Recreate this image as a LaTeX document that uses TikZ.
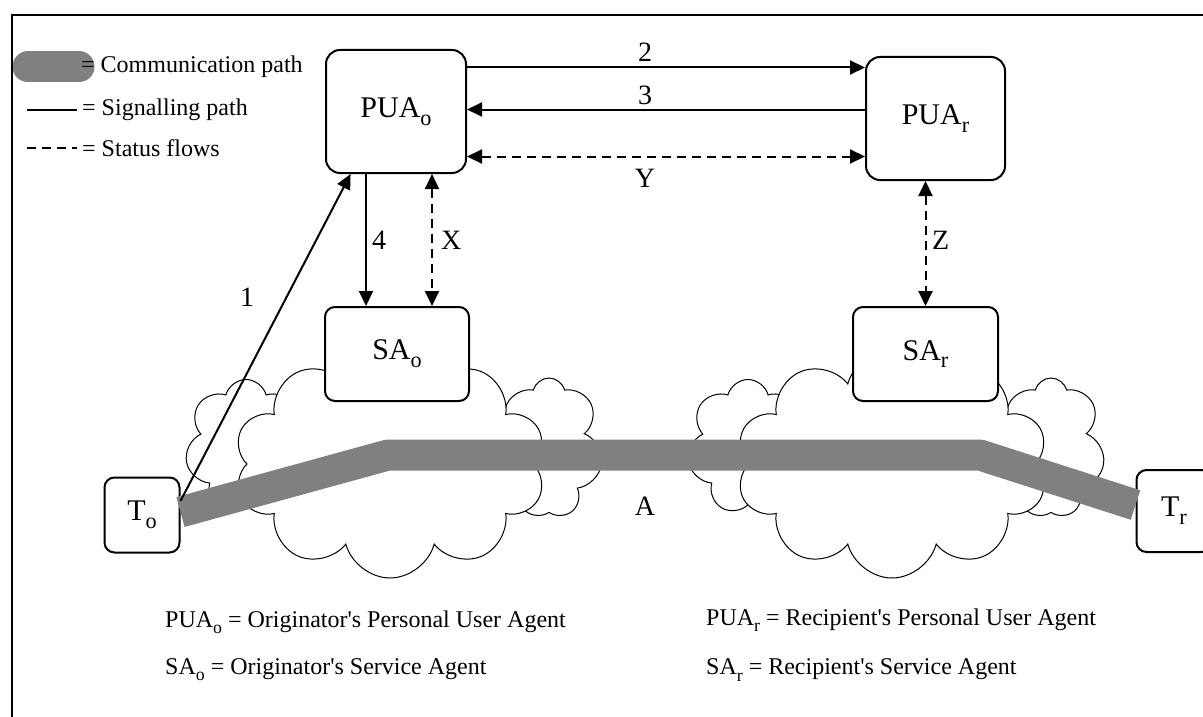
\documentclass[tikz,border=0pt]{standalone}
\usepackage{graphicx}
\usepackage{fontspec}
\setmainfont{Liberation Serif}
\newfontfamily\keyfont{Liberation Serif}
\usetikzlibrary{arrows.meta,shapes.symbols}

\newcommand\lowsub[1]{\raisebox{-0.26em}{\scalebox{0.74}{#1}}}

\tikzset{
  agent/.style={draw, line width=2pt, rounded corners=14pt, fill=white, inner sep=0pt, font=\fontsize{30}{34}\selectfont},
  term/.style={draw, line width=2pt, rounded corners=10pt, fill=white, minimum width=75pt, minimum height=75pt, inner sep=0pt, font=\fontsize{30}{34}\selectfont},
  netcloud/.style={cloud, cloud ignores aspect, draw, fill=white, line width=1pt, inner sep=0pt},
  commpath/.style={line width=31pt, gray, line join=round},
  sig/.style={line width=2pt, ->},
  stat/.style={line width=2pt, dash pattern=on 9pt off 6pt, <->},
  lbl/.style={font=\fontsize{28}{32}\selectfont, inner sep=0pt},
  legtext/.style={font=\keyfont\fontsize{24}{28}\selectfont, anchor=west, inner sep=0pt},
}

\begin{document}
\begin{tikzpicture}[x=1pt,y=-1pt,>={Triangle[length=15pt,width=14pt]}]
    \useasboundingbox (0,0) rectangle (1203,717);
    % originator side network
    \node[netcloud, cloud puffs=7, minimum width=122pt, minimum height=135pt] (cloudol) at (246,447) {};
    \node[netcloud, cloud puffs=7, minimum width=108pt, minimum height=140pt] (cloudor) at (549,448) {};
    \node[netcloud, cloud puffs=10, minimum width=312pt, minimum height=228pt] (cloudo) at (390,464) {};
    % recipient side network
    \node[netcloud, cloud puffs=7, minimum width=122pt, minimum height=135pt] (cloudrl) at (748,447) {};
    \node[netcloud, cloud puffs=7, minimum width=108pt, minimum height=140pt] (cloudrr) at (1051,448) {};
    \node[netcloud, cloud puffs=10, minimum width=312pt, minimum height=228pt] (cloudr) at (892,464) {};

    % terminals and agents
    \node[term] (To) at (142,515) {T\lowsub{o}};
    \node[term, minimum height=82pt] (Tr) at (1174,511) {T\lowsub{r}};
    \coordinate (bendo) at (388,455);
    \coordinate (bendr) at (980,455);
    \draw[commpath] ([yshift=3pt]To.east) -- (bendo) -- (bendr) -- ([yshift=6pt]Tr.west);

    \node[agent, minimum width=140pt, minimum height=123pt] (PUAo) at (396,111.5) {PUA\lowsub{o}};
    \node[agent, minimum width=139pt, minimum height=123pt] (PUAr) at (935.5,118.5) {PUA\lowsub{r}};
    \node[agent, rounded corners=10pt, minimum width=144pt, minimum height=94pt] (SAo) at (397,354) {SA\lowsub{o}};
    \node[agent, rounded corners=10pt, minimum width=145pt, minimum height=94pt] (SAr) at (925.5,354) {SA\lowsub{r}};

    % signalling and status flows
    \draw[sig] (To.20) -- (PUAo.234);
    \draw[sig] ([yshift=44pt]PUAo.east) -- ([yshift=44pt]PUAo.east -| PUAr.west);
    \draw[sig] ([yshift=2pt]PUAo.east -| PUAr.west) -- ([yshift=2pt]PUAo.east);
    \draw[stat] ([yshift=-45pt]PUAo.east) -- ([yshift=-45pt]PUAo.east -| PUAr.west);
    \draw[sig] ([xshift=-30pt]PUAo.south) -- ([xshift=-30pt]PUAo.south |- SAo.north);
    \draw[stat] ([xshift=36pt]PUAo.south) -- ([xshift=36pt]PUAo.south |- SAo.north);
    \draw[stat] (SAr.north |- PUAr.south) -- (SAr.north);

    \node[lbl] (n1) at (247,297) {1};
    \node[lbl] (n2) at (645,52) {2};
    \node[lbl] (n3) at (645,95) {3};
    \node[lbl, anchor=west] (n4) at (372,240) {4};
    \node[lbl, anchor=west] (nX) at (441,240) {X};
    \node[lbl] (nY) at (645,178) {Y};
    \node[lbl, anchor=west] (nZ) at (932,240) {Z};
    \node[lbl] (nA) at (645,506) {A};

    % legend
    \draw[commpath, line cap=round] (28,67) -- (79,67);
    \node[legtext] (legcomm) at (81,67) {= Communication path};
    \draw[line width=2pt] (27,110) -- (77,110);
    \node[legtext] (legsig) at (82,110) {= Signalling path};
    \draw[stat, -] (27,148) -- (77,148);
    \node[legtext] (legstat) at (82,148) {= Status flows};

    % key to abbreviations
    \node[legtext] (keypuao) at (165,622) {PUA\lowsub{o} = Originator's Personal User Agent};
    \node[legtext] (keysao) at (165,670) {SA\lowsub{o} = Originator's Service Agent};
    \node[legtext] (keypuar) at (706,620) {PUA\lowsub{r} = Recipient's Personal User Agent};
    \node[legtext] (keysar) at (706,670) {SA\lowsub{r} = Recipient's Service Agent};

    \draw[line width=2pt] (1203,15) -- (12,15) -- (12,717);
\end{tikzpicture}
\end{document}
